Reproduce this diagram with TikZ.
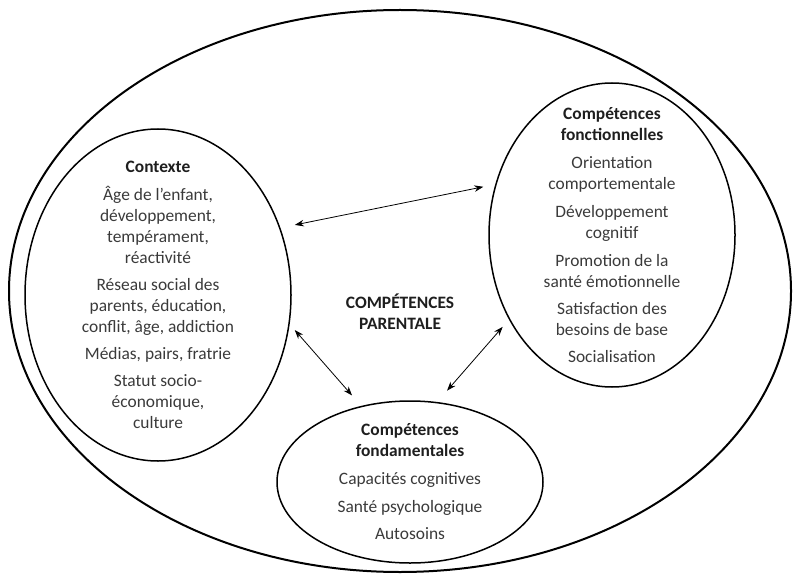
\documentclass[tikz,border=0pt]{standalone}
\usepackage{fontspec}
\setmainfont{Carlito}
\usetikzlibrary{shapes.geometric,positioning,arrows.meta}

\definecolor{encre}{HTML}{3A3A3A}
\definecolor{titre}{HTML}{1E1E1E}

\tikzset{
	bulle/.style={draw, ellipse, line width=1.5pt, inner sep=0pt},
	corps/.style={align=center, text=encre, font=\fontsize{17.4}{21}\selectfont},
	lien/.style={{Stealth[length=9pt,width=6.5pt]}-{Stealth[length=9pt,width=6.5pt]}, line width=0.8pt},
}
\newcommand{\Bulle}[3][]{\node[bulle, #1] (#2) at (#3) {};}
\newcommand{\Titre}[1]{{\color{titre}\bfseries #1}}

\begin{document}
\begin{tikzpicture}[x=1pt, y=-1pt]
\useasboundingbox (0,0) rectangle (794,577);

\Bulle[minimum width=782pt, minimum height=562pt, line width=2pt]{cadre}{400,291}
	\Bulle[minimum width=266pt, minimum height=332pt]{ctx}{158,295}
	\Bulle[minimum width=246pt, minimum height=304pt]{fct}{612,235}
	\Bulle[minimum width=266pt, minimum height=162pt]{fdm}{410,482}
	
	\node[corps] (ctx-txt) at (ctx) {\Titre{Contexte}\\[7pt]
		Âge de l’enfant,\\ développement,\\ tempérament,\\ réactivité\\[6pt]
		Réseau social des\\ parents, éducation,\\ conflit, âge, addiction\\[6pt]
		Médias, pairs, fratrie\\[6pt]
		Statut socio-\\ économique,\\ culture};
	
	\node[corps] (fct-txt) at (fct) {\Titre{Compétences}\\ \Titre{fonctionnelles}\\[7pt]
		Orientation\\ comportementale\\[7pt]
		Développement\\ cognitif\\[7pt]
		Promotion de la\\ santé émotionnelle\\[6pt]
		Satisfaction des\\ besoins de base\\[6pt]
		Socialisation};
	
	\node[corps] (fdm-txt) at (fdm) {\Titre{Compétences}\\ \Titre{fondamentales}\\[7pt]
		Capacités cognitives\\[7pt]
		Santé psychologique\\[6pt]
		Autosoins};
	
	\node[corps, text=titre, font=\bfseries\fontsize{17.4}{21}\selectfont] (parent) at (400,312) {COMPÉTENCES\\ PARENTALE};
	
	\coordinate[above right = 7pt and 13pt of ctx.27] (ctx1);
	\coordinate[right = 6pt of ctx.-15] (ctx2);
	
	\coordinate[above left = 5pt and 10pt of fct.160] (fct1);
	\coordinate[below left = 6pt and 7pt of fct.220] (fct2);
	
	\coordinate[above left = 11pt and 7pt of fdm.124] (fdm1);
	\coordinate[above right = 12pt and 5pt of fdm.68] (fdm2);
	
	\draw[lien] (ctx1) -- (fct1);
	\draw[lien] (ctx2) -- (fdm1);
	\draw[lien] (fct2) -- (fdm2);

\end{tikzpicture}
\end{document}
